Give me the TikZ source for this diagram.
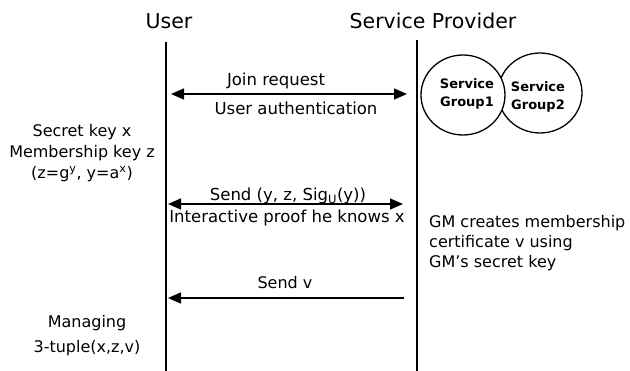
\documentclass[tikz,border=0pt]{standalone}
\usepackage{fontspec}
\setmainfont{DejaVu Sans}
\usetikzlibrary{arrows.meta}
\begin{document}
\begin{tikzpicture}[x=1pt,y=-1pt,
  head/.style={font=\fontsize{20.5}{24}\selectfont, inner sep=0pt, anchor=base},
  lbl/.style={font=\fontsize{16.5}{20}\selectfont, inner sep=0pt, anchor=base},
  side/.style={font=\fontsize{16}{20}\selectfont, inner sep=0pt, anchor=base},
  gtxt/.style={font=\bfseries\fontsize{13}{16}\selectfont, inner sep=0pt, anchor=base},
  grp/.style={line width=1.3pt},
  life/.style={line width=2.4pt},
  tip/.style={Triangle[length=13pt,width=11pt]},
  msg/.style={line width=1.4pt, -{Triangle[length=13pt,width=11pt]}},
  dmsg/.style={line width=1.4pt, {Triangle[length=13pt,width=11pt]}-{Triangle[length=13pt,width=11pt]}}]
\useasboundingbox (0,0) rectangle (630,371);

% headers
\node[head] (user) at (169,29) {User};
\node[head] (sp) at (433,29) {Service Provider};

% lifelines
\coordinate (ut) at (166,42);
\coordinate (ub) at (166,371);
\coordinate (st) at (417,40);
\coordinate (sb) at (417,371);
\draw[life] (ut) -- (ub);
\draw[life] (st) -- (sb);

% service groups
\draw[grp] (540,93) ellipse [x radius=42, y radius=40];
\draw[grp, fill=white] (463,95) ellipse [x radius=42, y radius=40];
\node[gtxt] (g1a) at (467,88.5) {Service};
\node[gtxt] (g1b) at (467,106.5) {Group1};
\node[gtxt] (g2a) at (538,91.5) {Service};
\node[gtxt] (g2b) at (538,109.5) {Group2};

% message 1
\coordinate (a1l) at (166,94);
\coordinate (a1r) at (417,94);
\draw[dmsg, shorten <=5pt, shorten >=10pt] (a1l) -- (a1r);
\node[lbl] (jr) at (276,86) {Join request};
\node[lbl] (ua) at (296,115) {User authentication};

% user keys
\node[side] (k1) at (82,136.5) {Secret key x};
\node[side] (k2) at (82,157.5) {Membership key z};
\node[side] (k3) at (82,178.5) {(z=g\textsuperscript{y}, y=a\textsuperscript{x})};

% message 2
\coordinate (a2l) at (166,204);
\coordinate (a2r) at (417,204);
\draw[dmsg, shorten <=2pt, shorten >=14pt] (a2l) -- (a2r);
\node[lbl] (send) at (288,201) {Send (y, z, Sig\textsubscript{U}(y))};
\node[lbl] (ip) at (287,223) {Interactive proof he knows x};

% GM text
\node[side, anchor=base west] (gm1) at (429,228) {GM creates membership};
\node[side, anchor=base west] (gm2) at (429,248) {certificate v using};
\node[side, anchor=base west] (gm3) at (429,268) {GM’s secret key};

% message 3
\coordinate (a3l) at (166,298);
\coordinate (a3r) at (404,298);
\draw[msg, shorten >=2pt] (a3r) -- (a3l);
\node[side] (sv) at (285,289) {Send v};

% managing
\node[side] (mg1) at (87,328) {Managing};
\node[side] (mg2) at (87,352.5) {3-tuple(x,z,v)};
\end{tikzpicture}
\end{document}
